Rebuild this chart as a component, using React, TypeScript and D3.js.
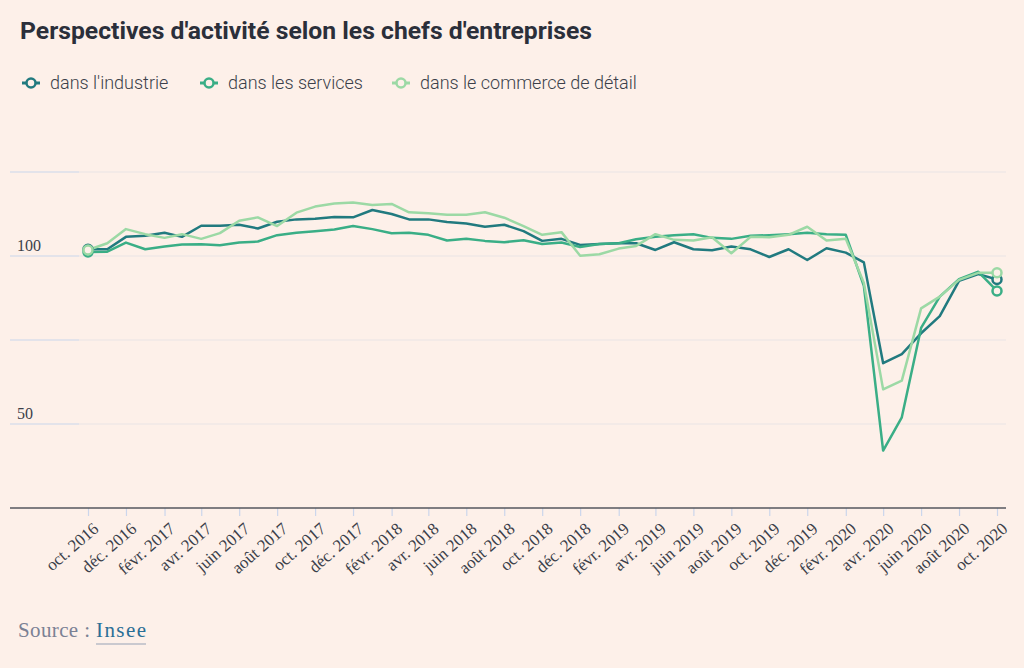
import * as d3 from "d3";
import { useEffect, useRef } from "react";

const BG = "#fdf0e9";

const tickLabels = [
    "oct. 2016", "déc. 2016", "févr. 2017", "avr. 2017", "juin 2017", "août 2017",
    "oct. 2017", "déc. 2017", "févr. 2018", "avr. 2018", "juin 2018", "août 2018",
    "oct. 2018", "déc. 2018", "févr. 2019", "avr. 2019", "juin 2019", "août 2019",
    "oct. 2019", "déc. 2019", "févr. 2020", "avr. 2020", "juin 2020", "août 2020",
    "oct. 2020",
];

// monthly, oct. 2016 -> oct. 2020
const industrie = [
    102.0, 102.0, 105.7, 106.0, 106.9, 105.7, 109.0, 109.0, 109.3, 108.2,
    110.2, 110.9, 111.1, 111.6, 111.5, 113.7, 112.5, 110.9, 110.9, 110.1,
    109.7, 108.7, 109.3, 107.4, 104.5, 105.1, 103.3, 103.6, 103.8, 103.8,
    101.8, 104.1, 102.0, 101.7, 102.8, 102.0, 99.7, 102.0, 98.8, 102.3,
    101.0, 98.1, 68.1, 70.8, 77.0, 82.1, 92.6, 94.6, 93.0,
];
const services = [
    101.2, 101.3, 104.0, 102.0, 102.8, 103.4, 103.5, 103.2, 104.0, 104.3,
    106.2, 106.9, 107.4, 107.9, 108.9, 108.0, 106.8, 106.9, 106.3, 104.6,
    105.1, 104.5, 104.1, 104.7, 103.6, 104.0, 102.7, 103.6, 103.8, 105.0,
    105.7, 106.2, 106.5, 105.4, 105.1, 106.0, 106.2, 106.5, 106.9, 106.5,
    106.3, 91.1, 42.1, 52.0, 78.6, 87.9, 93.1, 95.3, 89.6,
];
const commerce = [
    101.8, 103.8, 108.0, 106.5, 105.4, 106.5, 105.1, 106.8, 110.5, 111.5,
    108.9, 112.9, 114.7, 115.6, 115.9, 115.2, 115.5, 113.0, 112.7, 112.3,
    112.3, 113.0, 111.4, 108.9, 106.3, 107.1, 100.1, 100.5, 102.2, 103.0,
    106.5, 104.8, 104.6, 105.6, 100.8, 105.7, 105.6, 106.3, 108.7, 104.6,
    105.1, 92.0, 60.3, 62.9, 84.4, 87.9, 92.9, 95.0, 95.0,
];

const seriesNames = ["dans l'industrie", "dans les services", "dans le commerce de détail"];
const seriesColors = ["#217a7f", "#3aae86", "#9cd9a5"];
const gridValues = [50, 75, 100, 125];
const labelValues = [50, 100];

export default function App() {
    const svgRef = useRef<SVGSVGElement | null>(null);

    useEffect(() => {
        document.body.style.margin = "0";
        document.body.style.background = BG;
        if (!svgRef.current) return;

        const svg = d3.select(svgRef.current);
        svg.selectAll("*").remove();

        const totalW = 1024;
        const totalH = 668;
        svg.attr("width", totalW).attr("height", totalH);

        svg.append("rect").attr("width", totalW).attr("height", totalH).attr("fill", BG);

        const months = d3.timeMonth.range(new Date(2016, 9, 1), new Date(2020, 10, 1));
        const tickDates = months.filter((d, i) => i % 2 === 0);

        const x = d3.scaleTime()
            .domain([months[0], months[months.length - 1]])
            .range([88, 997]);
        const y = d3.scaleLinear().domain([25, 125]).range([508, 172]);

        // title
        svg.append("text")
            .attr("x", 20)
            .attr("y", 39)
            .attr("font-family", "Roboto, sans-serif")
            .attr("font-weight", 700)
            .attr("font-size", 23.5)
            .attr("textLength", 572)
            .attr("lengthAdjust", "spacingAndGlyphs")
            .attr("fill", "#2b2f3a")
            .text("Perspectives d'activité selon les chefs d'entreprises");

        // legend
        const legendX = [22, 200, 392];
        seriesNames.forEach((name, i) => {
            const lg = svg.append("g").attr("transform", `translate(${legendX[i]},83)`);
            lg.append("line")
                .attr("x1", 0).attr("x2", 18)
                .attr("stroke", seriesColors[i]).attr("stroke-width", 3);
            lg.append("circle")
                .attr("cx", 9).attr("r", 4.5)
                .attr("fill", BG)
                .attr("stroke", seriesColors[i]).attr("stroke-width", 2.5);
            lg.append("text")
                .attr("x", 28)
                .attr("y", 6)
                .attr("font-family", "Roboto, sans-serif")
                .attr("font-weight", 300)
                .attr("font-size", 18)
                .attr("fill", "#3b3f4a")
                .text(name);
        });

        // grid
        svg.append("g")
            .selectAll("line")
            .data(gridValues)
            .join("line")
            .attr("x1", 10).attr("x2", 1006)
            .attr("y1", (d) => y(d)).attr("y2", (d) => y(d))
            .attr("stroke", "#e9e3e5").attr("stroke-width", 1.2);
        svg.append("g")
            .selectAll("line")
            .data(gridValues)
            .join("line")
            .attr("x1", 10).attr("x2", 79)
            .attr("y1", (d) => y(d)).attr("y2", (d) => y(d))
            .attr("stroke", "#d3dbee").attr("stroke-width", 1.2);

        svg.append("g")
            .selectAll("text")
            .data(labelValues)
            .join("text")
            .attr("x", 17)
            .attr("y", (d) => y(d) - 5)
            .attr("font-family", "'Liberation Serif', serif")
            .attr("font-size", 16)
            .attr("fill", "#3b3f4a")
            .text((d) => d);

        // x axis
        const xAxis = svg.append("g")
            .attr("transform", `translate(0,${y(25)})`)
            .call(
                d3.axisBottom(x)
                    .tickValues(tickDates)
                    .tickSize(8)
                    .tickFormat((d, i) => tickLabels[i])
            );
        xAxis.select(".domain").remove();
        xAxis.selectAll(".tick line").attr("stroke", "#cbd6ec").attr("stroke-width", 1.2);
        xAxis.selectAll(".tick text")
            .attr("font-family", "'Liberation Serif', serif")
            .attr("font-size", 17)
            .attr("fill", "#3b3f4a")
            .attr("text-anchor", "end")
            .attr("dy", 0)
            .attr("transform", "translate(4,14) rotate(-41)");

        svg.append("line")
            .attr("x1", 10).attr("x2", 1006)
            .attr("y1", y(25)).attr("y2", y(25))
            .attr("stroke", "#55575e").attr("stroke-width", 1.5);

        // lines
        const allSeries = [industrie, services, commerce];
        const line = d3.line<number>()
            .x((d, i) => x(months[i]))
            .y((d) => y(d));

        allSeries.forEach((s, k) => {
            svg.append("path")
                .datum(s)
                .attr("fill", "none")
                .attr("stroke", seriesColors[k])
                .attr("stroke-width", 2.5)
                .attr("stroke-linejoin", "round")
                .attr("d", line);
        });

        allSeries.forEach((s, k) => {
            [0, s.length - 1].forEach((i) => {
                svg.append("circle")
                    .attr("cx", x(months[i]))
                    .attr("cy", y(s[i]))
                    .attr("r", 4.5)
                    .attr("fill", BG)
                    .attr("stroke", seriesColors[k])
                    .attr("stroke-width", 2.5);
            });
        });

        // source
        svg.append("text")
            .attr("x", 18)
            .attr("y", 637)
            .attr("font-family", "'Liberation Serif', serif")
            .attr("font-size", 21)
            .attr("textLength", 72)
            .attr("fill", "#7b8194")
            .text("Source :");
        svg.append("text")
            .attr("x", 96)
            .attr("y", 637)
            .attr("font-family", "'Liberation Serif', serif")
            .attr("font-size", 21)
            .attr("textLength", 50)
            .attr("fill", "#2b6f96")
            .text("Insee");
        svg.append("line")
            .attr("x1", 96).attr("x2", 146)
            .attr("y1", 644).attr("y2", 644)
            .attr("stroke", "#b9bcc6").attr("stroke-width", 1.5);
    }, []);

    return <svg ref={svgRef} style={{ display: "block" }} />;
}
